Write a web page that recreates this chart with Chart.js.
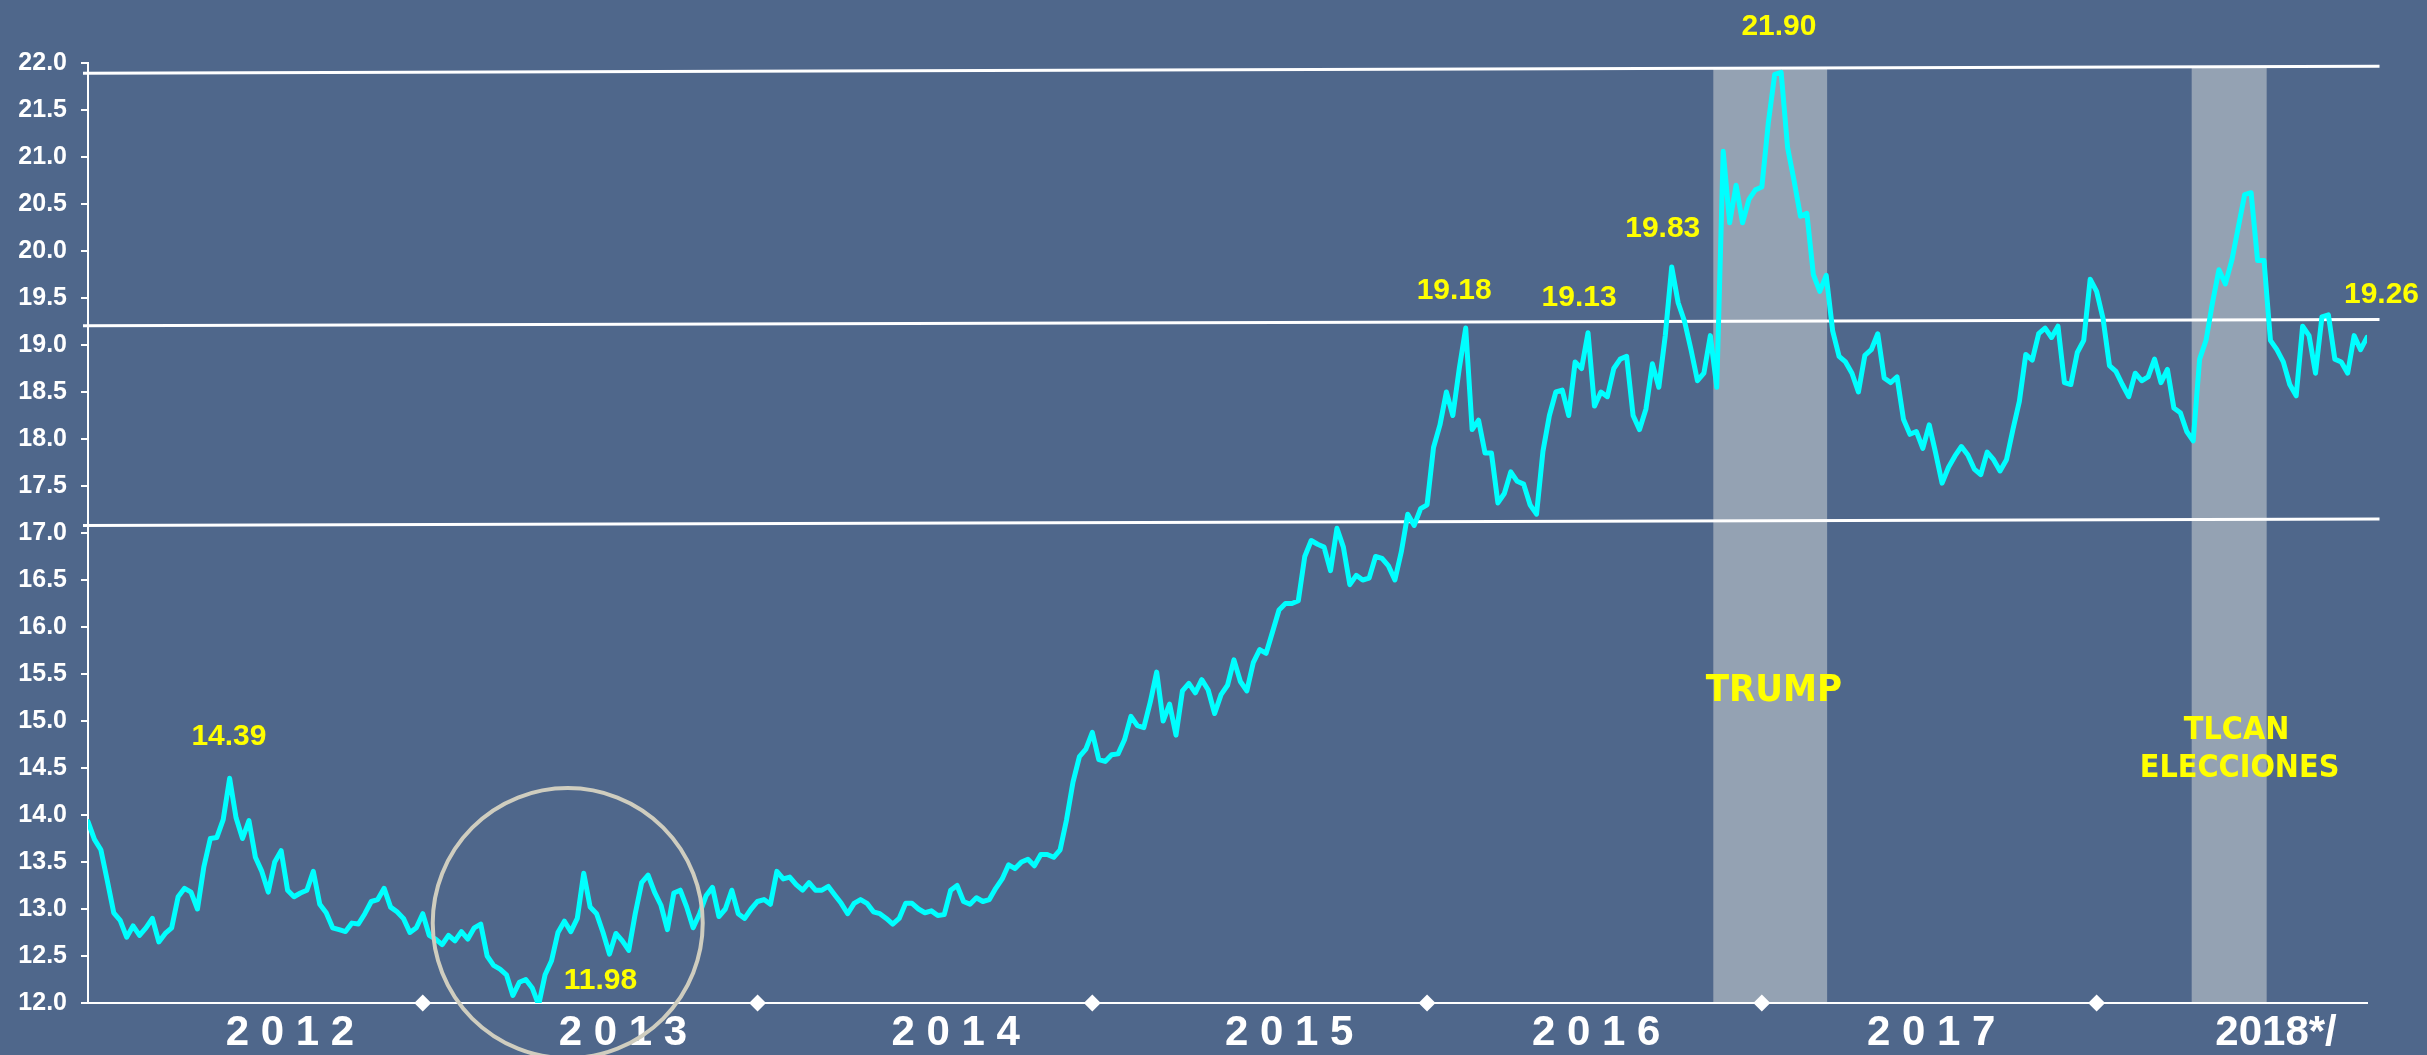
<!DOCTYPE html>
<html>
<head>
<meta charset="utf-8">
<script src="https://cdn.jsdelivr.net/npm/chart.js@4/dist/chart.umd.min.js"></script>
<style>
  html, body { margin: 0; padding: 0; background: #4F678B; overflow: hidden; }
  canvas { display: block; }
</style>
</head>
<body>
<canvas id="c" width="2427" height="1055"></canvas>
<script>
// ---- Data: USD/MXN weekly ----
const startYear = 2012;
const weeksPerYear = 52;
const mxn2012 = [13.93,13.74,13.63,13.30,12.96,12.88,12.70,12.82,12.72,12.80,12.90,12.65,12.74,12.80,13.13,13.22,13.18,13.00,13.45,13.75,13.76,13.95,14.39,13.97,13.75,13.94,13.55,13.40,13.18,13.50,13.62,13.20,13.13,13.17,13.20,13.40,13.05,12.96,12.80,12.78,12.76,12.85,12.84,12.95,13.08,13.10,13.22,13.02,12.97,12.90,12.75,12.80];
const mxn2013 = [12.95,12.72,12.68,12.62,12.72,12.66,12.76,12.68,12.80,12.84,12.50,12.40,12.36,12.30,12.08,12.22,12.25,12.16,11.98,12.30,12.45,12.75,12.87,12.76,12.90,13.38,13.02,12.95,12.75,12.52,12.74,12.66,12.56,12.95,13.28,13.36,13.18,13.04,12.78,13.17,13.20,13.02,12.80,12.95,13.14,13.23,12.92,13.00,13.20,12.95,12.90,13.00];
const mxn2014 = [13.08,13.10,13.05,13.40,13.32,13.34,13.26,13.20,13.28,13.20,13.20,13.24,13.15,13.06,12.95,13.06,13.10,13.06,12.97,12.95,12.90,12.84,12.90,13.06,13.06,13.00,12.96,12.98,12.93,12.94,13.20,13.25,13.08,13.05,13.12,13.08,13.10,13.22,13.32,13.47,13.43,13.50,13.53,13.46,13.58,13.58,13.55,13.63,13.95,14.35,14.62,14.70];
const mxn2015 = [14.88,14.59,14.57,14.64,14.65,14.80,15.05,14.95,14.93,15.20,15.52,15.00,15.18,14.85,15.32,15.40,15.30,15.44,15.33,15.08,15.28,15.38,15.65,15.42,15.32,15.62,15.76,15.72,15.95,16.18,16.25,16.25,16.28,16.75,16.92,16.88,16.85,16.60,17.05,16.85,16.45,16.55,16.50,16.52,16.75,16.73,16.65,16.50,16.80,17.20,17.08,17.26];
const mxn2016 = [17.30,17.91,18.15,18.50,18.25,18.75,19.18,18.10,18.20,17.85,17.85,17.32,17.42,17.65,17.55,17.52,17.30,17.20,17.87,18.25,18.50,18.52,18.25,18.82,18.75,19.13,18.35,18.50,18.45,18.75,18.85,18.88,18.25,18.10,18.32,18.80,18.55,19.10,19.83,19.45,19.25,18.95,18.62,18.70,19.10,18.55,21.06,20.30,20.70,20.30,20.55,20.65];
const mxn2017 = [20.68,21.36,21.88,21.90,21.10,20.75,20.37,20.40,19.75,19.57,19.74,19.15,18.88,18.82,18.70,18.50,18.89,18.95,19.12,18.65,18.60,18.66,18.21,18.05,18.08,17.90,18.15,17.85,17.53,17.70,17.82,17.92,17.83,17.68,17.62,17.86,17.78,17.66,17.78,18.10,18.40,18.90,18.84,19.12,19.18,19.08,19.20,18.60,18.58,18.92,19.05,19.70];
const mxn2018 = [19.57,19.28,18.78,18.72,18.58,18.45,18.70,18.62,18.66,18.85,18.60,18.74,18.33,18.28,18.08,17.98,18.85,19.05,19.45,19.80,19.65,19.90,20.25,20.60,20.62,19.90,19.90,19.05,18.95,18.82,18.58,18.46,19.20,19.10,18.70,19.30,19.32,18.85,18.82,18.70,19.10,18.95,19.08];
const seriesByYear = [mxn2012, mxn2013, mxn2014, mxn2015, mxn2016, mxn2017, mxn2018];

// x-axis tick labels and where they sit (fractional year)
const yearLabels = ['2 0 1 2', '2 0 1 3', '2 0 1 4', '2 0 1 5', '2 0 1 6', '2 0 1 7', '2018*/'];
const yearLabelAt = [2012.603, 2013.598, 2014.592, 2015.588, 2016.505, 2017.506, 2018.536];
// year boundaries (diamond markers on the axis)
const yearBoundaries = [2013, 2014, 2015, 2016, 2017, 2018];

// reference levels (start value, end value)
const levelTop = [21.89, 21.965];
const levelMid = [19.205, 19.27];
const levelLow = [17.08, 17.15];
const levelSpan = [2011.985, 2018.845];

// shaded event periods
const bandStart = [2016.855, 2018.284];
const bandEnd = [2017.195, 2018.508];

// annotations: text, year, value
const peakTexts = ['14.39', '11.98', '19.18', '19.13', '19.83', '21.90', '19.26'];
const peakYears = [2012.421, 2013.531, 2016.081, 2016.454, 2016.704, 2017.051, 2018.851];
const peakValues = [14.837, 12.234, 19.577, 19.503, 20.236, 22.383, 19.534];
const eventTexts = ['TRUMP', 'TLCAN', 'ELECCIONES'];
const eventYears = [2017.036, 2018.418, 2018.427];
const eventValues = [15.316, 14.901, 14.497];

// highlighted low (circle center)
const circleCenter = { year: 2013.433, value: 12.85 };

// ---- Build points ----
const mainPoints = [];
seriesByYear.forEach((arr, yi) => {
  arr.forEach((v, i) => mainPoints.push({ x: startYear + yi + i / weeksPerYear, y: v }));
});
const lastX = mainPoints[mainPoints.length - 1].x;

function levelLine(vals) {
  return [{ x: levelSpan[0], y: vals[0] }, { x: levelSpan[1], y: vals[1] }];
}

const BG = '#4F678B';
const BAND = '#94A2B3';
const YELLOW = '#FFFF00';
const ARIAL = '"Liberation Sans", Arial, sans-serif';

const decorPlugin = {
  id: 'decor',
  beforeDraw(chart) {
    const { ctx, scales: { x, y }, chartArea } = chart;
    ctx.save();
    ctx.fillStyle = BG;
    ctx.fillRect(0, 0, chart.width, chart.height);
    ctx.fillStyle = BAND;
    for (let i = 0; i < bandStart.length; i++) {
      const x1 = x.getPixelForValue(bandStart[i]);
      const x2 = x.getPixelForValue(bandEnd[i]);
      const top = y.getPixelForValue(levelTop[0] + (levelTop[1] - levelTop[0]) * ((bandStart[i] - levelSpan[0]) / (levelSpan[1] - levelSpan[0])));
      ctx.fillRect(x1, top, x2 - x1, chartArea.bottom - top);
    }
    ctx.restore();
  },
  afterDatasetsDraw(chart) {
    const { ctx, scales: { x, y } } = chart;
    ctx.save();
    ctx.fillStyle = YELLOW;
    ctx.textAlign = 'center';
    ctx.textBaseline = 'middle';
    ctx.font = 'bold 30px ' + ARIAL;
    for (let i = 0; i < peakTexts.length; i++) {
      ctx.fillText(peakTexts[i], x.getPixelForValue(peakYears[i]), y.getPixelForValue(peakValues[i]));
    }
    for (let i = 0; i < eventTexts.length; i++) {
      ctx.font = (i === 0 ? 'bold 38px ' : 'bold 32px ') + '"DejaVu Sans Condensed", "DejaVu Sans", sans-serif';
      ctx.fillText(eventTexts[i], x.getPixelForValue(eventYears[i]), y.getPixelForValue(eventValues[i]));
    }
    ctx.restore();
  },
  afterDraw(chart) {
    const { ctx, scales: { x, y } } = chart;
    ctx.save();
    ctx.strokeStyle = '#CFCDBF';
    ctx.lineWidth = 4;
    ctx.beginPath();
    ctx.arc(x.getPixelForValue(circleCenter.year), y.getPixelForValue(circleCenter.value), 135, 0, Math.PI * 2);
    ctx.stroke();
    ctx.restore();
  }
};

new Chart(document.getElementById('c'), {
  type: 'line',
  data: {
    datasets: [
      {
        data: mainPoints, borderColor: '#00FFFF', borderWidth: 5, pointRadius: 0,
        tension: 0, borderJoinStyle: 'round', borderCapStyle: 'round', order: 1
      },
      { data: levelLine(levelTop), borderColor: '#FFFFFF', borderWidth: 3, pointRadius: 0, clip: false, order: 2 },
      { data: levelLine(levelMid), borderColor: '#FFFFFF', borderWidth: 3, pointRadius: 0, clip: false, order: 2 },
      { data: levelLine(levelLow), borderColor: '#FFFFFF', borderWidth: 3, pointRadius: 0, clip: false, order: 2 },
      {
        type: 'scatter', data: yearBoundaries.map(v => ({ x: v, y: 12 })),
        pointStyle: 'rectRot', pointRadius: 8.5, backgroundColor: '#FFFFFF', borderColor: '#FFFFFF',
        borderWidth: 0, clip: false, order: 0
      }
    ]
  },
  options: {
    responsive: false,
    animation: false,
    devicePixelRatio: 1,
    layout: { padding: { top: 63, right: 60, bottom: 0, left: 0 } },
    plugins: { legend: { display: false }, tooltip: { enabled: false } },
    scales: {
      x: {
        type: 'linear', min: startYear, max: lastX,
        afterFit: (s) => { s.height = 52; },
        afterBuildTicks: (s) => { s.ticks = yearLabelAt.map(v => ({ value: v })); },
        grid: { display: true, drawOnChartArea: false, drawTicks: false },
        border: { display: true, color: '#FFFFFF', width: 2 },
        ticks: {
          autoSkip: false, maxRotation: 0, minRotation: 0, padding: 5,
          color: '#FFFFFF', font: { family: ARIAL, size: 42, weight: 'bold' },
          callback: (v, i) => yearLabels[i]
        }
      },
      y: {
        min: 12, max: 22,
        afterFit: (s) => { s.width = 88; },
        grid: { display: true, drawOnChartArea: false, drawTicks: true, tickLength: 7, color: '#FFFFFF', lineWidth: 2 },
        border: { display: true, color: '#FFFFFF', width: 2 },
        ticks: {
          stepSize: 0.5, autoSkip: false, padding: 14,
          color: '#FFFFFF', font: { family: ARIAL, size: 25, weight: 'bold' },
          callback: (v) => Number(v).toFixed(1)
        }
      }
    }
  },
  plugins: [decorPlugin]
});
</script>
</body>
</html>
